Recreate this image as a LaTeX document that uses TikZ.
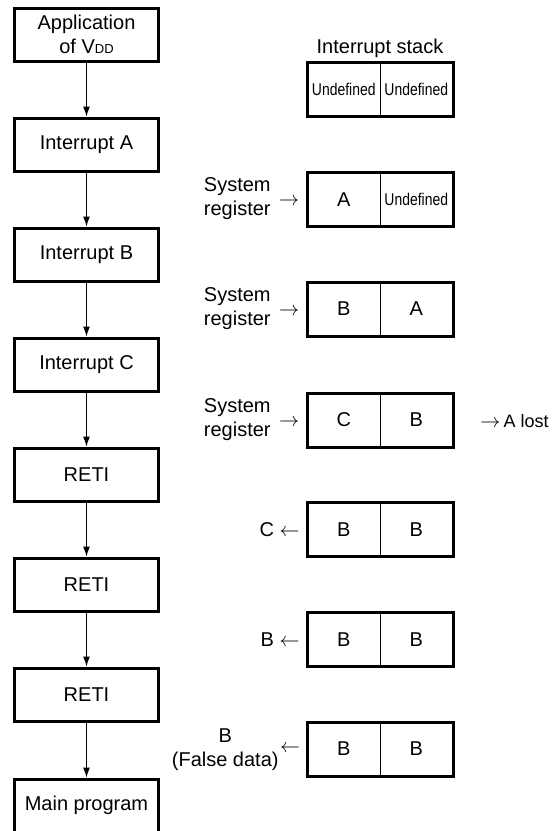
\documentclass[tikz,border=0pt]{standalone}
\usepackage{fontspec}
\setmainfont{Liberation Sans}
\usetikzlibrary{positioning, arrows.meta, calc}

\newcommand{\undefd}{\scalebox{0.82}[1]{\fontsize{8.5}{10}\selectfont Undefined}}

\begin{document}
\begin{tikzpicture}[
        x=0.5pt, y=-0.5pt,
        flowbox/.style={draw, rectangle, line width=1.5pt, minimum width=72pt, minimum height=26.5pt, align=center, inner sep=1pt},
        cell/.style={draw, rectangle, line width=0.5pt, minimum width=36.25pt, minimum height=26.5pt, inner sep=0pt},
        frame/.style={line width=1.5pt},
        flow/.style={line width=0.5pt, -{Latex[length=5pt, width=3.5pt]}},
        note/.style={align=center, inner sep=0pt}
    ]
        \useasboundingbox (0,0) rectangle (553,831);

        % Nodes
        \node[flowbox] (vdd) at (86.5, 34.5) {Application\\of V{\fontsize{6.5}{7}\selectfont DD}};
        \node[flowbox] (inta) at (86.5, 144.5) {Interrupt A};
        \node[flowbox] (intb) at (86.5, 254.5) {Interrupt B};
        \node[flowbox] (intc) at (86.5, 364.5) {Interrupt C};
        \node[flowbox] (reti1) at (86.5, 474.5) {RETI};
        \node[flowbox] (reti2) at (86.5, 584.5) {RETI};
        \node[flowbox] (reti3) at (86.5, 694.5) {RETI};
        \node[flowbox] (main) at (86.5, 805.5) {Main program};

        % Interrupt stack
        \node[note] (title) at (380, 48) {Interrupt stack};
        \foreach \i/\ycell/\lft/\rgt in {1/89/\undefd/\undefd, 2/199.5/A/\undefd, 3/309/B/A, 4/420/C/B, 5/529.5/B/B, 6/639.5/B/B, 7/749/B/B} {
            \node[cell] (s\i l) at (343.75, \ycell) {\lft};
            \node[cell] (s\i r) at (416.25, \ycell) {\rgt};
            \draw[frame] (s\i l.north west) rectangle (s\i r.south east);
        }

        % Labels
        \node[note, anchor=east] (reg2) at (271, 199) {System\\register};
        \node[note] (to2) at (289, 202) {$\rightarrow$};
        \node[note, anchor=east] (reg3) at (271, 309) {System\\register};
        \node[note] (to3) at (289, 312) {$\rightarrow$};
        \node[note, anchor=east] (reg4) at (271, 420) {System\\register};
        \node[note] (to4) at (289, 423) {$\rightarrow$};
        \node[note, anchor=west] (lost) at (480, 421) {$\rightarrow$\,{\fontsize{9}{10}\selectfont A lost}};
        \node[note, anchor=east] (pop5) at (300, 530) {C $\leftarrow$};
        \node[note, anchor=east] (pop6) at (300, 640) {B $\leftarrow$};
        \node[note, anchor=east] (pop7) at (279, 749.5) {B\\(False data)};
        \node[note] (from7) at (290, 749) {$\leftarrow$};

        % Edges
        \draw[flow] (vdd) -- (inta);
        \draw[flow] (inta) -- (intb);
        \draw[flow] (intb) -- (intc);
        \draw[flow] (intc) -- (reti1);
        \draw[flow] (reti1) -- (reti2);
        \draw[flow] (reti2) -- (reti3);
        \draw[flow] (reti3) -- (main);
    \end{tikzpicture}
\end{document}
